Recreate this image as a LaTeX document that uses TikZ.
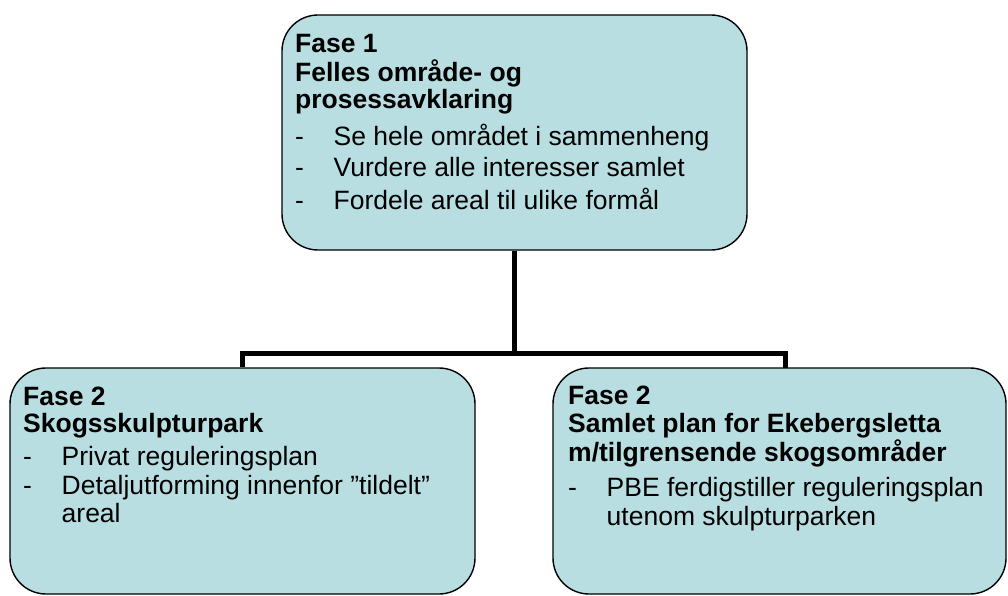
\documentclass[tikz,border=0pt]{standalone}
\usepackage{fontspec}
\setmainfont{Liberation Sans}
\usetikzlibrary{backgrounds}
\definecolor{boxfill}{RGB}{184,222,225}
\tikzset{
  phasebox/.style={draw=black, line width=1.4pt, fill=boxfill, rounded corners=36pt, inner sep=0pt},
  conn/.style={draw=black, line width=5pt, line join=miter, line cap=butt},
  txt/.style={anchor=base west, inner sep=0pt, font=\fontsize{26.5}{28}\selectfont},
  head/.style={txt, font=\fontsize{26.5}{28}\selectfont\bfseries}
}
\newcommand{\dashitem}[1]{\makebox[38.5pt][l]{-}#1}
\begin{document}
\begin{tikzpicture}[x=1pt,y=-1pt]
\useasboundingbox (0,0) rectangle (1008,596);
% boxes
\path (514.5,132.5) node[phasebox, minimum width=465pt, minimum height=235pt] (top) {};
\path (242.5,481) node[phasebox, minimum width=465pt, minimum height=226pt] (left) {};
\path (779.5,481) node[phasebox, minimum width=453pt, minimum height=226pt] (right) {};
% connectors
\coordinate (hl) at (242.5,353);
\coordinate (hr) at (785,353);
\coordinate (rn) at (785,368);
\begin{scope}[on background layer]
\draw[conn] (top.south) -- (top.south |- hl);
\draw[conn] (left.north) -- (hl) -- (hr) -- (rn);
\end{scope}
% top text
\node[head] (t1) at (295,52.5) {Fase 1};
\node[head] (t2) at (295,81.5) {Felles område- og};
\node[head] (t3) at (295,109) {prosessavklaring};
\node[txt] (t4) at (295,145.5) {\dashitem{Se hele området i sammenheng}};
\node[txt] (t5) at (295,177) {\dashitem{Vurdere alle interesser samlet}};
\node[txt] (t6) at (295,209) {\dashitem{Fordele areal til ulike formål}};
% left text
\node[head] (l1) at (23,405) {Fase 2};
\node[head] (l2) at (23,432.5) {Skogsskulpturpark};
\node[txt] (l3) at (23,465.5) {\dashitem{Privat reguleringsplan}};
\node[txt] (l4) at (23,494) {\dashitem{Detaljutforming innenfor ”tildelt”}};
\node[txt] (l5) at (61.5,522.5) {areal};
% right text
\node[head] (r1) at (568,404.5) {Fase 2};
\node[head] (r2) at (568,432.5) {Samlet plan for Ekebergsletta};
\node[head] (r3) at (568,461) {m/tilgrensende skogsområder};
\node[txt] (r4) at (568,496.5) {\dashitem{PBE ferdigstiller reguleringsplan}};
\node[txt] (r5) at (606.5,525.5) {utenom skulpturparken};
\end{tikzpicture}
\end{document}
